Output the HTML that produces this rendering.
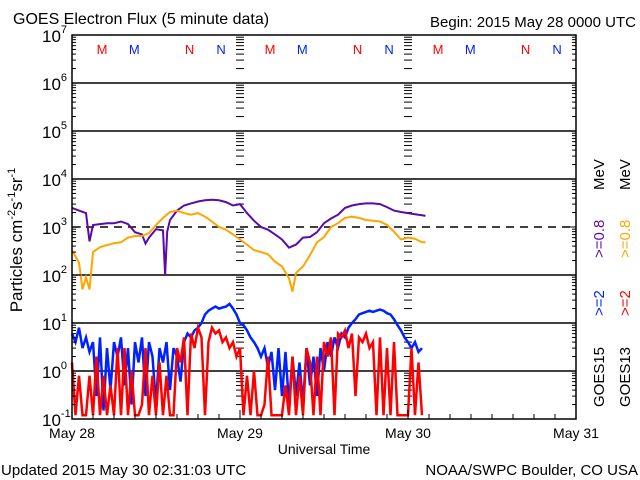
<!DOCTYPE html>
<html><head><meta charset="utf-8"><style>
html,body{margin:0;padding:0;background:#fff;}
svg{display:block;font-family:"Liberation Sans",sans-serif;}
</style></head><body>
<svg id="chart" width="640" height="480" viewBox="0 0 640 480" xmlns="http://www.w3.org/2000/svg">
<rect width="640" height="480" fill="#fff"/>
<text x="13" y="24" font-size="16">GOES Electron Flux (5 minute data)</text>
<text x="636" y="27" font-size="15" text-anchor="end">Begin: 2015 May 28 0000 UTC</text>
<g id="grid"></g>
<g id="series"></g>
<g id="axes"></g>
<text transform="translate(22,240) rotate(-90)" font-size="17" text-anchor="middle">Particles cm<tspan font-size="11" dy="-7">-2</tspan><tspan dy="7">s</tspan><tspan font-size="11" dy="-7">-1</tspan><tspan dy="7">sr</tspan><tspan font-size="11" dy="-7">-1</tspan></text>
<text x="324" y="454" font-size="14" text-anchor="middle">Universal Time</text>
<text x="1" y="475" font-size="15">Updated 2015 May 30 02:31:03 UTC</text>
<text x="638" y="475" font-size="15" text-anchor="end">NOAA/SWPC Boulder, CO USA</text>
<g font-size="15">
<text transform="translate(604,407) rotate(-90)">GOES15</text>
<text transform="translate(604,316) rotate(-90)" fill="#0022ff">&gt;=2</text>
<text transform="translate(604,258) rotate(-90)" fill="#5a0aa8">&gt;=0.8</text>
<text transform="translate(604,190) rotate(-90)">MeV</text>
<text transform="translate(630,407) rotate(-90)">GOES13</text>
<text transform="translate(630,316) rotate(-90)" fill="#ff0000">&gt;=2</text>
<text transform="translate(630,258) rotate(-90)" fill="#ffa500">&gt;=0.8</text>
<text transform="translate(630,190) rotate(-90)">MeV</text>
</g>
</svg>
<script>
const hoursPurple = [0,1,2,2.5,3,4,5,6,7,8,9,10,10.5,11,12,13,13.3,13.6,14,15,16,17,18,19,20,21,22,23,24,25,26,27,28,29,30,31,32,33,34,35,36,37,38,39,40,41,42,43,44,45,46,47,48,49,50,50.5];
const purple = [2500,2200,1950,500,1100,1150,1200,1200,1300,1150,780,700,450,600,900,850,100,800,1400,2200,2800,3100,3400,3600,3700,3600,3300,2800,3000,1950,1350,1000,880,700,550,370,430,600,620,780,1200,1500,1800,2500,2800,3000,3100,3100,3000,2600,2200,2050,1950,1850,1750,1700];
const hoursOrange = [0,1,1.5,2,2.5,3,4,5,6,7,8,9,10,11,12,13,14,15,16,17,18,19,20,21,22,23,24,25,26,27,28,29,30,31,31.5,32,33,34,35,36,37,38,39,40,41,42,43,44,45,46,47,48,49,50,50.5];
const orange = [330,180,50,90,50,300,380,420,460,480,600,650,650,750,1100,1550,2050,2200,1950,1800,1950,1650,1300,1000,880,700,550,430,330,300,270,190,150,85,45,110,150,260,480,620,1000,1200,1550,1650,1550,1400,1350,1300,1100,800,550,600,570,480,480];
const blue = [6,4,8,3,5,2.5,4,0.3,5,0.15, 3,0.4,4,2,5,0.5,3,0.2,4,1.5, 5,0.3,4,2,0.2,3,1.5,4,0.4,3, 2,0.6,4,6,5,7,8,10,15,18, 20,22,20,21,22,25,20,15,10,9, 7,5,4,3,2,3,1.2,2.5,0.4,3, 0.3,2.5,0.2,2,0.3,1.5,0.2,3,0.5,2, 0.3,3,1,4,2,5,3,6,5,8, 10,12,15,16,17,18,17,18,19,18, 16,15,12,9,7,5,4,3,4,2.5, 3];
const red = [1.5,0.12,0.8,0.12,0.12,0.8,0.12,2,0.12,0.8, 0.12,0.5,0.12,3,0.12,3,0.12,1,0.12,0.12, 0.2,3,0.12,0.8,0.12,1.5,0.12,0.8,0.12,0.12, 3,1.5,5,0.12,6,3,8,5,0.12,4, 8,6,7,4,5,3,4,2,3,0.12, 0.8,0.12,1,0.12,0.12,0.2,2,0.12,0.12,0.12, 0.12,0.5,0.12,2,0.12,0.8,0.12,3,1.5,0.12, 2,0.12,4,2,5,0.12,6,5,7,3, 6,0.3,5,4,6,3,4,0.12,5,0.12, 3,0.12,4,0.12,0.12,0.12,0.12,3,0.12,1.5, 0.12];
const noisyStepHours = 0.5;
const dayLabels = ["May 28","May 29","May 30","May 31"];
const decades = [-1,0,1,2,3,4,5,6,7];

const NS="http://www.w3.org/2000/svg";
const X0=72,X1=576,Y0=35,Y1=419;
function xs(h){return X0+h*(X1-X0)/72;}
function ys(v){return Y0+(7-Math.log10(v))*(Y1-Y0)/8;}
function mk(tag,attrs,parent){const e=document.createElementNS(NS,tag);for(const k in attrs)e.setAttribute(k,attrs[k]);parent.appendChild(e);return e;}
const grid=document.getElementById('grid'),series=document.getElementById('series'),axes=document.getElementById('axes');

decades.forEach(d=>{
  if(d===-1||d===7)return;
  const y=ys(Math.pow(10,d));
  const l=mk('line',{x1:X0,x2:X1,y1:y,y2:y,stroke:'#000','stroke-width':1.5},grid);
  
  
  if(d===3)l.setAttribute('stroke-dasharray','8,6');
});
[1,2].forEach(day=>{
  const x=xs(day*24);
  decades.forEach(d=>{
    if(d===7)return;
    for(let m=2;m<=9;m++){
      const y=ys(m*Math.pow(10,d));
      mk('line',{x1:x-4,x2:x+4,y1:y,y2:y,stroke:'#000','stroke-width':1},grid);
    }
  });
});
const markers=[[4.3,'M','#ff0000'],[8.9,'M','#0022ff'],[16.8,'N','#ff0000'],[21.3,'N','#0022ff']];
[0,1,2].forEach(day=>markers.forEach(m=>{
  const t=mk('text',{x:xs(m[0]+day*24),y:54,'font-size':13,fill:m[2],'text-anchor':'middle'},grid);
  
  
  t.textContent=m[1];
}));

function linePath(hs,vs){
  let d='';
  for(let i=0;i<vs.length;i++){
    const x=xs(hs[i]).toFixed(1),y=ys(vs[i]).toFixed(1);
    d+=(i===0?'M':'L')+x+','+y;
  }
  return d;
}
const noisyHours=blue.map((_,i)=>i*noisyStepHours);
const pB=mk('path',{d:linePath(noisyHours,blue),fill:'none',stroke:'#0022ff','stroke-width':2.5,'stroke-linejoin':'miter'},series);


const pR=mk('path',{d:linePath(red.map((_,i)=>i*noisyStepHours),red),fill:'none',stroke:'#ff0000','stroke-width':2.5},series);


const pP=mk('path',{d:linePath(hoursPurple,purple),fill:'none',stroke:'#5a0aa8','stroke-width':2},series);


const pO=mk('path',{d:linePath(hoursOrange,orange),fill:'none',stroke:'#ffa500','stroke-width':2},series);



const fr=mk('rect',{x:X0,y:Y0,width:X1-X0,height:Y1-Y0,fill:'none',stroke:'#000','stroke-width':1.5},axes);


decades.forEach(d=>{
  const y=ys(Math.pow(10,d));
  mk('line',{x1:X0,x2:X0+9,y1:y,y2:y,stroke:'#000'},axes);
  mk('line',{x1:X1-9,x2:X1,y1:y,y2:y,stroke:'#000'},axes);
  if(d<7)for(let m=2;m<=9;m++){
    const ym=ys(m*Math.pow(10,d));
    mk('line',{x1:X0,x2:X0+4,y1:ym,y2:ym,stroke:'#000'},axes);
    mk('line',{x1:X1-4,x2:X1,y1:ym,y2:ym,stroke:'#000'},axes);
  }
  const t=mk('text',{x:X0-30,y:y+7,'font-size':17,'text-anchor':'start'},axes);
  
  
  t.innerHTML='10<tspan font-size="11" dy="-9">'+d+'</tspan>';
});
for(let h=0;h<=72;h+=3){
  const x=xs(h);
  const len=(h%24===0)?9:5;
  mk('line',{x1:x,x2:x,y1:Y1,y2:Y1-len,stroke:'#000'},axes);
}
dayLabels.forEach((lab,i)=>{
  const t=mk('text',{x:xs(i*24),y:438,'font-size':14,'text-anchor':'middle'},axes);
  
  
  t.textContent=lab;
});
</script>
</body></html>
